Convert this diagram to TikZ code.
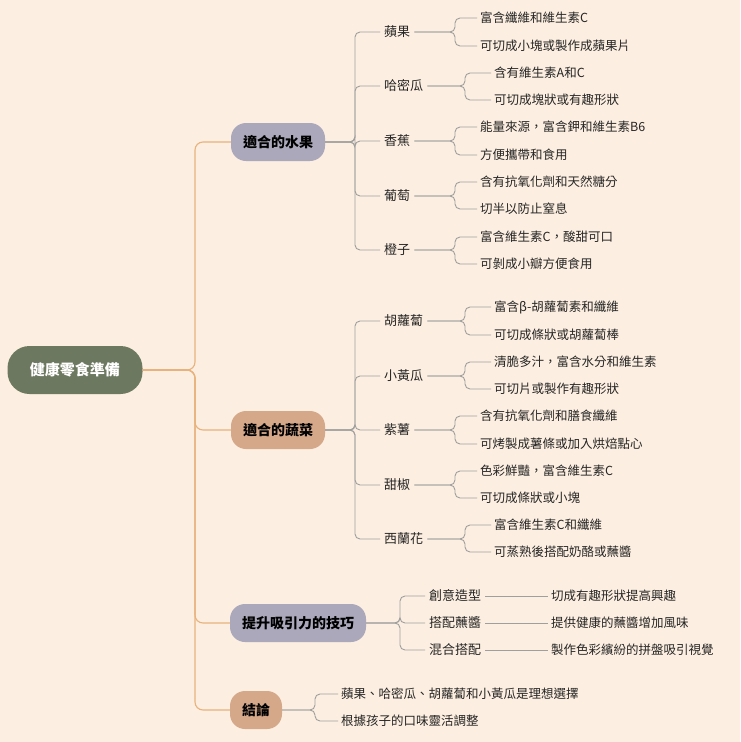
\documentclass[tikz,border=0pt]{standalone}
\usepackage{fontspec}
\setmainfont{Noto Sans CJK TC}
\begin{document}
\begin{tikzpicture}[x=1pt,y=-1pt,
  leaf/.style={anchor=west,inner sep=3pt,font=\fontsize{12.5}{14}\selectfont,text=black!85},
  mid/.style={inner sep=4pt,font=\fontsize{13}{15}\selectfont,text=black!85},
  br/.style={rounded corners=15pt,minimum height=38pt,inner xsep=12pt,font=\fontsize{14}{16}\selectfont\bfseries},
  conn/.style={draw=gray!75,line width=0.9pt,rounded corners=5pt},
  bconn/.style={draw=brown!60!orange!60,line width=1.1pt,rounded corners=8pt}]
\fill[fill={rgb,255:red,252;green,238;blue,224}] (0,0) rectangle (740,742);
\useasboundingbox (0,0) rectangle (740,742);
\colorlet{lav}{black!15!blue!8!white!75!gray}
\definecolor{lav}{RGB}{170,168,186}
\definecolor{tan}{RGB}{214,168,138}
\definecolor{rootc}{RGB}{108,121,96}
\node[rounded corners=22pt,fill=rootc,text=white,minimum width=135pt,minimum height=48pt,font=\fontsize{15}{17}\selectfont\bfseries] (root) at (75,370) {健康零食準備};
\node[br,fill=lav] (b1) at (278,142) {適合的水果};
\node[br,fill=tan] (b2) at (278,430) {適合的蔬菜};
\node[br,fill=lav] (b3) at (298,623) {提升吸引力的技巧};
\node[br,fill=tan] (b4) at (256,710) {結論};
\coordinate (v0) at (195,0);
\foreach \b in {b1,b2,b3,b4}{\draw[bconn] (root.east) -- (root.east -| v0) |- (\b.west);}
% fruits
\coordinate (v1) at (355,0);
\node[mid,anchor=west] (f1) at (380,32) {蘋果};
\node[mid,anchor=west] (f2) at (380,86) {哈密瓜};
\node[mid,anchor=west] (f3) at (380,141) {香蕉};
\node[mid,anchor=west] (f4) at (380,196) {葡萄};
\node[mid,anchor=west] (f5) at (380,250) {橙子};
\foreach \c in {f1,f2,f3,f4,f5}{\draw[conn] (b1.east) -- (b1.east -| v1) |- (\c.west);}
\coordinate (va) at (455,0);\coordinate (vb) at (465,0);
\node[leaf] (f1a) at (477,18) {富含纖維和維生素C};
\node[leaf] (f1b) at (477,46) {可切成小塊或製作成蘋果片};
\node[leaf] (f2a) at (491,73) {含有維生素A和C};
\node[leaf] (f2b) at (491,100) {可切成塊狀或有趣形狀};
\node[leaf] (f3a) at (477,127) {能量來源，富含鉀和維生素B6};
\node[leaf] (f3b) at (477,155) {方便攜帶和食用};
\node[leaf] (f4a) at (477,182) {含有抗氧化劑和天然糖分};
\node[leaf] (f4b) at (477,209) {切半以防止窒息};
\node[leaf] (f5a) at (477,237) {富含維生素C，酸甜可口};
\node[leaf] (f5b) at (477,264) {可剝成小瓣方便食用};
\foreach \p/\v in {f1/va,f2/vb,f3/va,f4/va,f5/va}{
  \draw[conn] (\p.east) -- (\p.east -| \v) |- (\p a.west);
  \draw[conn] (\p.east) -- (\p.east -| \v) |- (\p b.west);}
% vegetables
\node[mid,anchor=west] (g1) at (380,321) {胡蘿蔔};
\node[mid,anchor=west] (g2) at (380,376) {小黃瓜};
\node[mid,anchor=west] (g3) at (380,430) {紫薯};
\node[mid,anchor=west] (g4) at (380,485) {甜椒};
\node[mid,anchor=west] (g5) at (380,539) {西蘭花};
\foreach \c in {g1,g2,g3,g4,g5}{\draw[conn] (b2.east) -- (b2.east -| v1) |- (\c.west);}
\node[leaf] (g1a) at (491,307) {富含β-胡蘿蔔素和纖維};
\node[leaf] (g1b) at (491,335) {可切成條狀或胡蘿蔔棒};
\node[leaf] (g2a) at (491,362) {清脆多汁，富含水分和維生素};
\node[leaf] (g2b) at (491,389) {可切片或製作有趣形狀};
\node[leaf] (g3a) at (477,416) {含有抗氧化劑和膳食纖維};
\node[leaf] (g3b) at (477,444) {可烤製成薯條或加入烘焙點心};
\node[leaf] (g4a) at (477,471) {色彩鮮豔，富含維生素C};
\node[leaf] (g4b) at (477,498) {可切成條狀或小塊};
\node[leaf] (g5a) at (491,525) {富含維生素C和纖維};
\node[leaf] (g5b) at (491,552) {可蒸熟後搭配奶酪或蘸醬};
\foreach \p/\v in {g1/vb,g2/vb,g3/va,g4/va,g5/vb}{
  \draw[conn] (\p.east) -- (\p.east -| \v) |- (\p a.west);
  \draw[conn] (\p.east) -- (\p.east -| \v) |- (\p b.west);}
% techniques
\coordinate (v3) at (400,0);
\node[mid,anchor=west] (t1) at (425,596) {創意造型};
\node[mid,anchor=west] (t2) at (425,623) {搭配蘸醬};
\node[mid,anchor=west] (t3) at (425,650) {混合搭配};
\foreach \c in {t1,t2,t3}{\draw[conn] (b3.east) -- (b3.east -| v3) |- (\c.west);}
\node[leaf] (t1a) at (548,596) {切成有趣形狀提高興趣};
\node[leaf] (t2a) at (548,623) {提供健康的蘸醬增加風味};
\node[leaf] (t3a) at (548,650) {製作色彩繽紛的拼盤吸引視覺};
\foreach \c in {t1,t2,t3}{\draw[conn] (\c.east) -- (\c a.west);}
% conclusion
\coordinate (v4) at (315,0);
\node[leaf] (c1) at (338,694) {蘋果、哈密瓜、胡蘿蔔和小黃瓜是理想選擇};
\node[leaf] (c2) at (338,721) {根據孩子的口味靈活調整};
\foreach \c in {c1,c2}{\draw[conn] (b4.east) -- (b4.east -| v4) |- (\c.west);}
\end{tikzpicture}
\end{document}
